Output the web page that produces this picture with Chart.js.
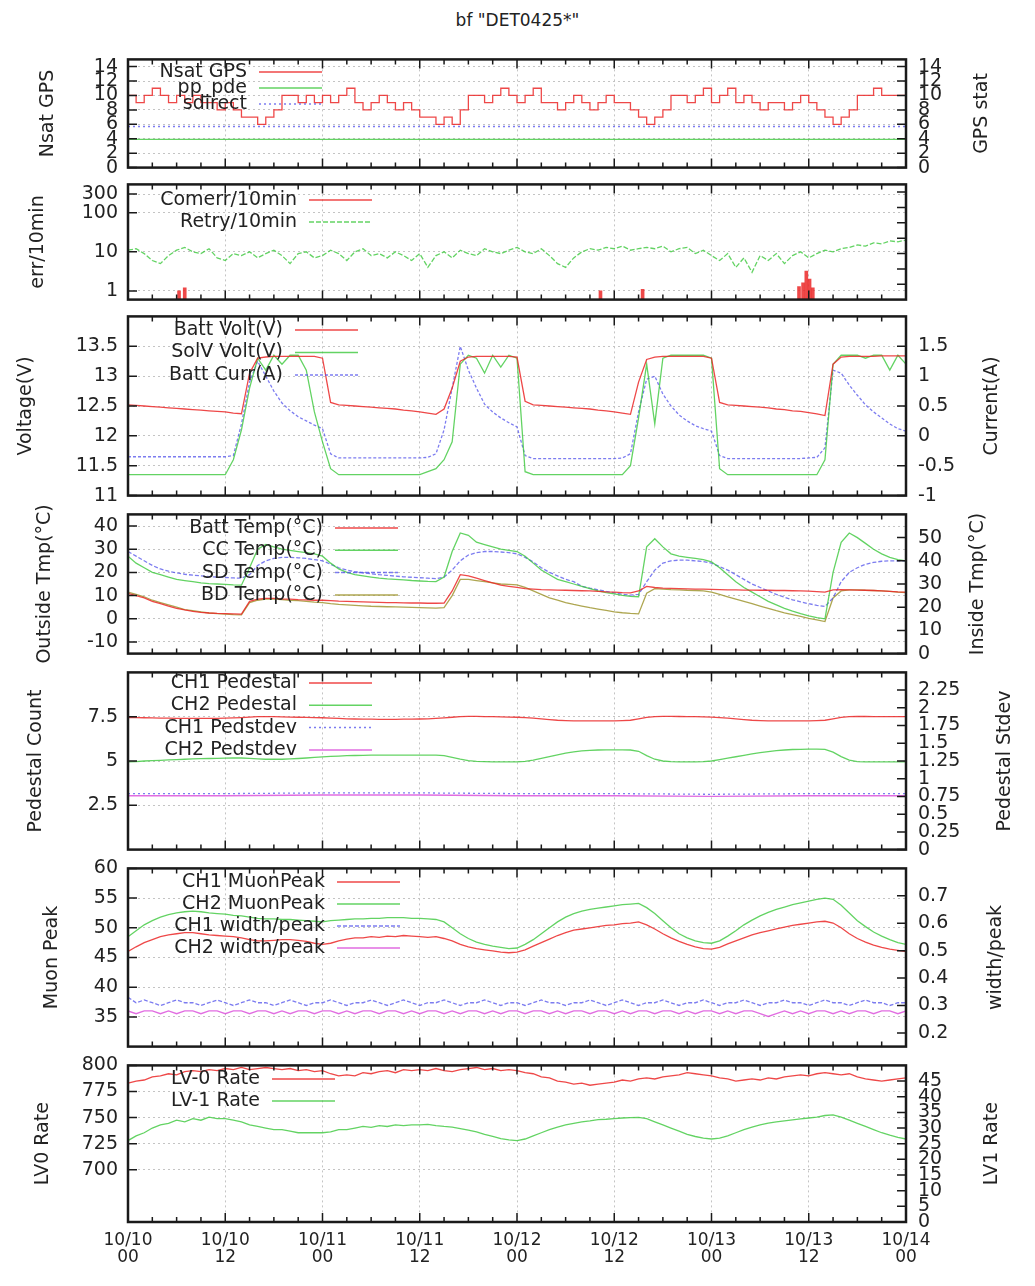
<!DOCTYPE html>
<html>
<head>
<meta charset="utf-8">
<title>DET0425 monitor</title>
<script src="https://cdn.jsdelivr.net/npm/chart.js@4.4.1/dist/chart.umd.min.js"></script>
<style>
  html, body { margin: 0; padding: 0; background: #fff; }
  #page { position: relative; width: 1035px; height: 1286px; overflow: hidden; }
  #page canvas { position: absolute; left: 0; }
  #title { position: absolute; left: 0; top: 10px; width: 1035px; text-align: center;
           font: 17px 'DejaVu Sans', sans-serif; color: #222; }
</style>
</head>
<body>
<div id="page"><div id="title">bf "DET0425*"</div></div>
<script>
// ── time axis: hours since 10/10 00:00 ──
const hours = [
  0, 1, 2, 3, 4, 5, 6, 7, 8, 9, 10, 11,
  12, 13, 14, 15, 16, 17, 18, 19, 20, 21, 22, 23,
  24, 25, 26, 27, 28, 29, 30, 31, 32, 33, 34, 35,
  36, 37, 38, 39, 40, 41, 42, 43, 44, 45, 46, 47,
  48, 49, 50, 51, 52, 53, 54, 55, 56, 57, 58, 59,
  60, 61, 62, 63, 64, 65, 66, 67, 68, 69, 70, 71,
  72, 73, 74, 75, 76, 77, 78, 79, 80, 81, 82, 83,
  84, 85, 86, 87, 88, 89, 90, 91, 92, 93, 94, 95,
  96
];
const hours12 = [0, 12, 24, 36, 48, 60, 72, 84, 96];
const hoursEnds = [0, 96];
const xTicks = [0, 12, 24, 36, 48, 60, 72, 84, 96];
const xTickLabels = [
  ['10/10', '00'], ['10/10', '12'], ['10/11', '00'], ['10/11', '12'], ['10/12', '00'],
  ['10/12', '12'], ['10/13', '00'], ['10/13', '12'], ['10/14', '00']
];

// ── GPS ──
const nsatGps = [
  10, 9, 10, 11, 10, 9, 10, 9, 10, 9, 9, 8,
  9, 8, 7, 7, 6, 7, 8, 10, 10, 9, 10, 9,
  10, 9, 10, 11, 9, 8, 9, 10, 9, 8, 9, 8,
  7, 7, 6, 7, 6, 8, 10, 10, 9, 10, 11, 10,
  9, 10, 11, 9, 9, 8, 9, 10, 9, 8, 9, 10,
  9, 9, 8, 7, 6, 7, 8, 10, 10, 9, 10, 11,
  9, 10, 11, 9, 10, 9, 8, 9, 9, 8, 9, 10,
  9, 8, 7, 6, 7, 8, 10, 10, 11, 10, 10, 10,
  9
];
const ppPde = [3.9, 3.9];
const sDirect = [5.7, 5.7];
const gpsTicks = [0, 2, 4, 6, 8, 10, 12, 14];

// ── communication errors ──
const comErrT = [6.3, 7.0, 58.3, 63.5, 82.8, 83.3, 83.7, 84.1, 84.5];
const comErrV = [1, 1.2, 1, 1.1, 1.3, 1.6, 3.2, 2, 1.2];
const retry10 = [
  11, 12, 9, 6, 5, 8, 11, 13, 10, 9, 12, 7,
  6, 9, 8, 10, 7, 9, 11, 8, 5, 9, 10, 7,
  8, 11, 9, 6, 10, 12, 8, 9, 7, 10, 8, 6,
  9, 4, 8, 10, 7, 11, 9, 8, 12, 10, 9, 11,
  13, 10, 9, 12, 8, 5, 4, 7, 10, 12, 11, 13,
  12, 14, 11, 12, 13, 12, 14, 10, 12, 13, 9, 11,
  8, 6, 9, 4, 7, 3, 8, 6, 9, 5, 8, 10,
  7, 9, 11, 10, 12, 13, 15, 14, 17, 16, 19, 18,
  20
];
const errTicks = [1, 10, 100, 300];
const errRightTicks = [1, 2, 3, 4, 5, 6, 7];

// ── power ──
const battVolt = [
  12.52, 12.51, 12.5, 12.49, 12.48, 12.47, 12.46, 12.45, 12.44, 12.43, 12.42, 12.41,
  12.4, 12.38, 12.37, 13.05, 13.3, 13.32, 13.33, 13.33, 13.33, 13.33, 13.33, 13.33,
  13.3, 12.56, 12.52, 12.51, 12.5, 12.49, 12.48, 12.47, 12.46, 12.45, 12.43, 12.42,
  12.4, 12.38, 12.36, 12.45, 12.8, 13.25, 13.32, 13.33, 13.33, 13.33, 13.33, 13.33,
  13.32, 12.58, 12.52, 12.51, 12.5, 12.49, 12.48, 12.47, 12.46, 12.45, 12.43, 12.42,
  12.4, 12.38, 12.36, 12.9, 13.28, 13.32, 13.33, 13.33, 13.33, 13.33, 13.33, 13.33,
  13.3, 12.56, 12.52, 12.51, 12.5, 12.49, 12.48, 12.47, 12.45, 12.44, 12.42, 12.41,
  12.39, 12.37, 12.34, 13.2, 13.32, 13.33, 13.33, 13.33, 13.33, 13.34, 13.34, 13.34,
  13.34
];
const solVolt = [
  11.35, 11.35, 11.35, 11.35, 11.35, 11.35, 11.35, 11.35, 11.35, 11.35, 11.35, 11.35,
  11.35, 11.6, 12.1, 12.8, 13.3, 13.1, 13.35, 13.2, 13.35, 13.35, 13.1, 12.4,
  11.9, 11.45, 11.35, 11.35, 11.35, 11.35, 11.35, 11.35, 11.35, 11.35, 11.35, 11.35,
  11.35, 11.4, 11.45, 11.6, 11.9, 13.2, 13.35, 13.3, 13.05, 13.35, 13.15, 13.35,
  13.3, 11.4, 11.35, 11.35, 11.35, 11.35, 11.35, 11.35, 11.35, 11.35, 11.35, 11.35,
  11.35, 11.35, 11.5, 12.3, 13.2, 12.2, 13.3, 13.35, 13.35, 13.35, 13.35, 13.35,
  13.3, 11.45, 11.35, 11.35, 11.35, 11.35, 11.35, 11.35, 11.35, 11.35, 11.35, 11.35,
  11.35, 11.35, 11.6, 13.2, 13.35, 13.35, 13.35, 13.3, 13.35, 13.35, 13.1, 13.35,
  13.2
];
const battCurr = [
  -0.35, -0.35, -0.35, -0.35, -0.35, -0.35, -0.35, -0.35, -0.35, -0.35, -0.35, -0.35,
  -0.35, -0.33, 0.2, 0.9, 1.25, 1.0, 0.75, 0.55, 0.42, 0.32, 0.25, 0.18,
  0.12, -0.3, -0.37, -0.37, -0.37, -0.37, -0.37, -0.37, -0.37, -0.37, -0.37, -0.37,
  -0.37, -0.36, -0.3, 0.1, 0.8, 1.5, 1.1, 0.8, 0.53, 0.4, 0.3, 0.22,
  0.15, -0.33, -0.38, -0.38, -0.38, -0.38, -0.38, -0.38, -0.38, -0.38, -0.38, -0.38,
  -0.38, -0.37, -0.3, 0.4, 0.95, 1.0, 0.7, 0.5, 0.35, 0.25, 0.17, 0.12,
  0.08, -0.33, -0.38, -0.38, -0.38, -0.38, -0.38, -0.38, -0.38, -0.38, -0.38, -0.38,
  -0.37, -0.36, -0.2, 1.1, 1.05, 0.85, 0.68, 0.52, 0.4, 0.3, 0.2, 0.12,
  0.08
];
const voltTicks = [11, 11.5, 12, 12.5, 13, 13.5];
const currTicks = [-1, -0.5, 0, 0.5, 1, 1.5];

// ── temperatures ──
const battTemp = [
  11, 10, 9, 7.5, 6.5, 5.5, 4.5, 3.8, 3.2, 2.8, 2.5, 2.3,
  2.2, 2.1, 2.0, 7.5, 8.5, 8.8, 8.8, 8.6, 8.5, 8.3, 8.2, 8.0,
  8.0, 7.8, 7.6, 7.5, 7.4, 7.3, 7.2, 7.1, 7.0, 7.0, 6.9, 6.8,
  6.8, 6.7, 6.7, 6.8, 12, 19, 18.5, 17.5, 16.5, 15.5, 14.5, 14,
  13.5, 13, 12.8, 12.6, 12.5, 12.4, 12.3, 12.2, 12.1, 12, 11.8, 11.6,
  11.5, 11.3, 11.2, 12, 14, 13.5, 13.2, 13.1, 13, 12.9, 12.8, 12.8,
  12.7, 12.6, 12.5, 12.5, 12.4, 12.4, 12.3, 12.3, 12.2, 12.2, 12.1, 12,
  11.9, 11.7, 11.5, 12.5, 12.6, 12.5, 12.4, 12.3, 12.2, 12, 11.8, 11.6,
  11.5
];
const ccTemp = [
  42, 39, 37, 35, 34, 33, 32, 31.5, 31, 30.5, 30.2, 30,
  29.8, 29.6, 29.5, 37, 45, 47, 46, 45, 44.5, 44, 43.5, 43,
  42, 39, 36.5, 35, 34, 33.5, 33, 32.5, 32.2, 32, 31.8, 31.5,
  31.3, 31.1, 31, 33, 44, 52, 51, 48, 47, 46, 45, 44.5,
  44, 42, 39, 36, 34, 32, 31, 30, 29, 28, 27, 26.3,
  25.7, 25.1, 24.7, 24.5, 46, 49.5, 46, 43, 42, 41.5, 41, 40.5,
  39.5, 37, 34, 31, 28.5, 26.5, 24.5, 22.5, 21, 19.5, 18.3, 17.2,
  16.3, 15.5, 15, 35, 48, 52, 50, 47.5, 45, 43, 41.5, 40.5,
  40
];
const sdTemp = [
  44, 42, 40, 38, 36.5, 35.5, 34.8, 34.2, 33.8, 33.5, 33.2, 33,
  32.8, 32.6, 32.5, 34, 38, 40, 41, 41.5, 41.5, 41.3, 41, 40.5,
  40, 38.5, 37, 36, 35.3, 34.8, 34.4, 34, 33.7, 33.4, 33.1, 32.9,
  32.7, 32.5, 32.3, 33, 36, 40, 42.5, 43.5, 44, 44, 43.8, 43.5,
  43, 41.5, 39.5, 37, 35, 33.5, 32, 31, 29, 28.2, 27.5, 26.8,
  26.2, 25.6, 25.2, 25.5, 31, 36, 39, 40, 40.3, 40.3, 40, 39.7,
  39, 37.5, 36, 34, 32, 30, 28.5, 27, 25.5, 24.3, 23.2, 22.3,
  21.5, 20.8, 20.3, 24, 31, 35, 37, 38.5, 39.3, 39.8, 40, 40,
  40
];
const bdTemp = [
  11.5, 10.5, 9.5, 8, 7, 6, 5, 4, 3.5, 3, 2.5, 2.2,
  2, 1.8, 1.7, 7, 8, 8.5, 8.5, 8.3, 8, 7.8, 7.5, 7.2,
  7, 6.5, 6.2, 6, 5.8, 5.6, 5.4, 5.3, 5.2, 5.1, 5, 4.9,
  4.8, 4.7, 4.6, 4.8, 10, 17, 17, 16.5, 16, 15.5, 15, 14.8,
  14.6, 13.5, 12, 10.5, 9, 8, 7, 6.2, 5.5, 4.8, 4.2, 3.6,
  3, 2.6, 2.3, 2.1, 11, 13, 12.8, 12.6, 12.5, 12.3, 12.2, 12,
  11.5, 10.5, 9.5, 8.5, 7.5, 6.5, 5.5, 4.5, 3.5, 2.6, 1.8, 1,
  0.2, -0.5, -1.2, 9, 12, 12.5, 12.5, 12.3, 12.2, 12, 11.8, 11.5,
  11.3
];
const outTicks = [-10, 0, 10, 20, 30, 40];
const inTicks = [0, 10, 20, 30, 40, 50];

// ── pedestals ──
const ch1Ped = [
  7.45, 7.45, 7.44, 7.43, 7.42, 7.42, 7.41, 7.41, 7.4, 7.4, 7.4, 7.41,
  7.42, 7.43, 7.45, 7.48, 7.5, 7.5, 7.5, 7.49, 7.48, 7.47, 7.46, 7.45,
  7.44, 7.42, 7.4, 7.38, 7.37, 7.36, 7.36, 7.35, 7.35, 7.35, 7.36, 7.36,
  7.37, 7.38, 7.4, 7.43, 7.47, 7.5, 7.52, 7.52, 7.5, 7.5, 7.49, 7.48,
  7.47, 7.45, 7.42, 7.38, 7.34, 7.3, 7.28, 7.27, 7.26, 7.26, 7.26, 7.27,
  7.27, 7.28, 7.3, 7.38, 7.46, 7.5, 7.52, 7.52, 7.51, 7.5, 7.5, 7.49,
  7.48, 7.45, 7.42, 7.38, 7.34, 7.3, 7.28, 7.27, 7.26, 7.26, 7.26, 7.26,
  7.27, 7.28, 7.3, 7.38, 7.46, 7.5, 7.51, 7.51, 7.5, 7.5, 7.5, 7.5,
  7.5
];
const ch2Ped = [
  4.95, 4.97, 5.0, 5.02, 5.04, 5.06, 5.08, 5.1, 5.12, 5.13, 5.14, 5.15,
  5.16, 5.17, 5.17, 5.15, 5.12, 5.1, 5.1, 5.1, 5.12, 5.14, 5.17, 5.2,
  5.23, 5.26, 5.28, 5.3, 5.31, 5.32, 5.33, 5.33, 5.33, 5.33, 5.33, 5.33,
  5.33, 5.33, 5.33, 5.3, 5.2, 5.1, 5.02, 4.98, 4.96, 4.95, 4.95, 4.95,
  4.95, 4.98, 5.05, 5.15, 5.25, 5.35, 5.45, 5.52, 5.57, 5.6, 5.62, 5.63,
  5.63, 5.63, 5.62, 5.55, 5.3, 5.1, 5.0, 4.96, 4.95, 4.95, 4.95, 4.96,
  5.0, 5.08, 5.16, 5.24, 5.32, 5.4, 5.47, 5.53, 5.58, 5.62, 5.65, 5.66,
  5.67, 5.67, 5.66, 5.5, 5.25, 5.05, 4.97, 4.95, 4.95, 4.95, 4.95, 4.95,
  4.95
];
const ch1PedStd = [0.79, 0.79, 0.8, 0.8, 0.79, 0.79, 0.78, 0.79, 0.79];
const ch2PedStd = [0.76, 0.76, 0.77, 0.77, 0.76, 0.76, 0.75, 0.76, 0.76];
const pedTicks = [2.5, 5, 7.5];
const pedStdTicks = [0, 0.25, 0.5, 0.75, 1, 1.25, 1.5, 1.75, 2, 2.25];

// ── muon peak ──
const ch1Muon = [
  46, 46.8, 47.5, 48, 48.5, 48.8, 49, 49.2, 49.2, 49, 48.8, 48.7,
  48.6, 48.5, 48.3, 48, 47.8, 47.8, 47.9, 48, 48, 47.9, 47.7, 47.4,
  47.2, 47.4, 47.8, 48.1, 48.3, 48.3, 48.5, 48.4, 48.6, 48.5, 48.7, 48.6,
  48.5, 48.4, 48.5, 48.2, 47.8, 47.2, 46.8, 46.5, 46.3, 46.1, 45.9, 45.8,
  45.9, 46.3, 46.9, 47.5, 48.1, 48.7, 49.2, 49.6, 49.8, 50, 50.2, 50.4,
  50.5, 50.7, 50.8, 51, 50.5, 49.8, 49, 48.3, 47.7, 47.2, 46.8, 46.5,
  46.4, 46.7, 47.3, 47.8, 48.3, 48.8, 49.2, 49.5, 49.8, 50.1, 50.4, 50.6,
  50.8, 51, 51.1, 50.8, 50, 49, 48.2, 47.6, 47.1, 46.7, 46.4, 46.2,
  46
];
const ch2Muon = [
  48.5, 49.5, 50.5, 51.2, 51.8, 52.2, 52.5, 52.7, 52.8, 52.7, 52.5, 52.4,
  52.3, 52.1, 52, 51.8, 51.6, 51.5, 51.5, 51.4, 51.4, 51.3, 51.2, 51.1,
  51, 51.2, 51.3, 51.4, 51.5, 51.5, 51.6, 51.6, 51.7, 51.7, 51.7, 51.6,
  51.6, 51.5, 51.4, 51, 50, 49, 48.2, 47.6, 47.2, 46.9, 46.7, 46.5,
  46.6, 47.2, 48, 49, 50, 51, 51.8, 52.4, 52.8, 53.1, 53.3, 53.5,
  53.7, 53.9, 54, 54.1, 53.4, 52.4, 51.2, 50, 49, 48.3, 47.8, 47.5,
  47.4, 47.8, 48.6, 49.5, 50.5, 51.3, 52, 52.6, 53.1, 53.5, 53.9, 54.2,
  54.5, 54.8, 55, 54.8, 53.8, 52.5, 51.2, 50.2, 49.3, 48.6, 48, 47.5,
  47.2
];
const ch1Width = [
  0.33, 0.31, 0.32, 0.31, 0.3, 0.31, 0.32, 0.31, 0.31, 0.3, 0.31, 0.32,
  0.31, 0.3, 0.31, 0.32, 0.31, 0.31, 0.3, 0.31, 0.32, 0.31, 0.3, 0.31,
  0.31, 0.32, 0.31, 0.3, 0.31, 0.31, 0.32, 0.31, 0.3, 0.31, 0.32, 0.31,
  0.3, 0.31, 0.31, 0.32, 0.31, 0.3, 0.31, 0.31, 0.32, 0.31, 0.3, 0.31,
  0.31, 0.3, 0.31, 0.32, 0.31, 0.31, 0.3, 0.31, 0.31, 0.32, 0.31, 0.3,
  0.31, 0.32, 0.31, 0.3, 0.31, 0.31, 0.32, 0.31, 0.3, 0.31, 0.31, 0.32,
  0.31, 0.3, 0.31, 0.31, 0.32, 0.31, 0.3, 0.31, 0.31, 0.32, 0.31, 0.31,
  0.3, 0.31, 0.32, 0.31, 0.31, 0.3, 0.31, 0.32, 0.31, 0.31, 0.3, 0.31,
  0.31
];
const ch2Width = [
  0.28, 0.27, 0.28, 0.28, 0.27, 0.28, 0.27, 0.28, 0.28, 0.27, 0.28, 0.28,
  0.27, 0.28, 0.28, 0.27, 0.28, 0.28, 0.27, 0.28, 0.27, 0.28, 0.28, 0.27,
  0.28, 0.28, 0.27, 0.28, 0.27, 0.28, 0.28, 0.27, 0.28, 0.28, 0.27, 0.28,
  0.27, 0.28, 0.28, 0.27, 0.28, 0.27, 0.28, 0.28, 0.27, 0.28, 0.27, 0.28,
  0.28, 0.27, 0.28, 0.28, 0.27, 0.28, 0.27, 0.28, 0.28, 0.27, 0.28, 0.28,
  0.27, 0.28, 0.27, 0.28, 0.28, 0.27, 0.28, 0.28, 0.27, 0.28, 0.27, 0.28,
  0.28, 0.27, 0.28, 0.27, 0.28, 0.28, 0.27, 0.26, 0.27, 0.28, 0.27, 0.28,
  0.27, 0.28, 0.28, 0.27, 0.28, 0.27, 0.28, 0.28, 0.27, 0.28, 0.28, 0.27,
  0.28
];
const muonTicks = [35, 40, 45, 50, 55, 60];
const widthTicks = [0.2, 0.3, 0.4, 0.5, 0.6, 0.7];

// ── trigger rates ──
const lv0Rate = [
  783, 785, 786, 789, 790, 792, 791, 794, 795, 794, 796, 795,
  797, 796, 798, 796, 797, 798, 797, 796, 797, 795, 796, 794,
  795, 792, 790, 791, 790, 793, 792, 794, 795, 793, 796, 795,
  796, 795, 797, 795, 794, 796, 797, 798, 796, 797, 795, 796,
  795, 793, 792, 789, 788, 785, 784, 782, 783, 781, 782, 783,
  784, 786, 785, 787, 788, 787, 789, 790, 791, 793, 792, 791,
  790, 788, 787, 785, 786, 787, 786, 788, 787, 789, 790, 791,
  790, 792, 793, 792, 791, 792, 789, 787, 786, 785, 786, 787,
  788
];
const lv1Rate = [
  26, 27.5, 28.5, 30, 31, 31.5, 32.5, 32, 33, 32.5, 33.5, 33,
  33, 32.5, 32, 31, 30.5, 30, 29.5, 29.5, 29, 28.5, 28.5, 28.5,
  28.5, 28.8, 29.5, 29.5, 30, 30.5, 30.2, 30.8, 30.5, 31, 30.8, 31,
  31, 31.2, 30.8, 30.5, 30.3, 29.8, 29.3, 28.8, 28, 27.3, 26.6, 26.2,
  26, 26.5, 27.5, 28.5, 29.5, 30.3, 31, 31.5, 32, 32.3, 32.7, 32.8,
  33, 33.2, 33.3, 33.4, 33, 32, 31, 30, 29, 28, 27.3, 26.8,
  26.5, 26.8, 27.5, 28.5, 29.5, 30.3, 31, 31.6, 32, 32.3, 32.6, 32.9,
  33.2, 33.5, 34, 34.2, 33.5, 32.5, 31.5, 30.5, 29.5, 28.5, 27.7, 27,
  26.5
];
const lv0Ticks = [700, 725, 750, 775, 800];
const lv1Ticks = [0, 5, 10, 15, 20, 25, 30, 35, 40, 45];

// ── styling ──
const RED = 'rgba(235, 40, 40, 0.85)';
const GREEN = 'rgba(60, 200, 60, 0.8)';
const BLUE = 'rgba(80, 80, 235, 0.75)';
const MAGENTA = 'rgba(215, 60, 215, 0.75)';
const OLIVE = 'rgba(160, 150, 50, 0.85)';
const GRID = '#c4c4c4';
const FONT = "'DejaVu Sans', sans-serif";

Chart.defaults.font.family = FONT;
Chart.defaults.color = '#222';

const panels = [
  {
    top: 50, bottom: 177,
    yl: { min: 0, max: 15, ticks: gpsTicks }, yr: { min: 0, max: 15, ticks: gpsTicks },
    leftTitle: 'Nsat GPS', leftX: 48, rightTitle: 'GPS stat', rightX: 982,
    keyX: 247, keyY: 72, keyGap: 16,
    sets: [
      { label: 'Nsat GPS', t: hours, v: nsatGps, color: RED, axis: 'y', stepped: true },
      { label: 'pp_pde', t: hoursEnds, v: ppPde, color: GREEN, axis: 'y2' },
      { label: 'sdirect', t: hoursEnds, v: sDirect, color: BLUE, axis: 'y2', dash: [2, 3] }
    ]
  },
  {
    top: 177, bottom: 307,
    yl: { min: 0.6, max: 530, ticks: errTicks, log: true },
    yr: { min: 0, max: 7.5, ticks: errRightTicks, noLabels: true },
    leftTitle: 'err/10min', leftX: 38, rightTitle: '', rightX: 0,
    keyX: 297, keyY: 200, keyGap: 22,
    sets: [
      { label: 'Comerr/10min', t: comErrT, v: comErrV, color: RED, axis: 'y', type: 'bar' },
      { label: 'Retry/10min', t: hours, v: retry10, color: GREEN, axis: 'y', dash: [5, 2] }
    ]
  },
  {
    top: 307, bottom: 505,
    yl: { min: 11, max: 14, ticks: voltTicks }, yr: { min: -1, max: 2, ticks: currTicks },
    leftTitle: 'Voltage(V)', leftX: 26, rightTitle: 'Current(A)', rightX: 992,
    keyX: 283, keyY: 330, keyGap: 22.5,
    sets: [
      { label: 'Batt Volt(V)', t: hours, v: battVolt, color: RED, axis: 'y' },
      { label: 'SolV Volt(V)', t: hours, v: solVolt, color: GREEN, axis: 'y' },
      { label: 'Batt Curr(A)', t: hours, v: battCurr, color: BLUE, axis: 'y2', dash: [3, 2] }
    ]
  },
  {
    top: 505, bottom: 663,
    yl: { min: -15, max: 45, ticks: outTicks }, yr: { min: 0, max: 60, ticks: inTicks },
    leftTitle: 'Outside Tmp(°C)', leftX: 45, rightTitle: 'Inside Tmp(°C)', rightX: 978,
    keyX: 323, keyY: 528, keyGap: 22.3,
    sets: [
      { label: 'Batt Temp(°C)', t: hours, v: battTemp, color: RED, axis: 'y' },
      { label: 'CC Temp(°C)', t: hours, v: ccTemp, color: GREEN, axis: 'y2' },
      { label: 'SD Temp(°C)', t: hours, v: sdTemp, color: BLUE, axis: 'y2', dash: [4, 2] },
      { label: 'BD Temp(°C)', t: hours, v: bdTemp, color: OLIVE, axis: 'y' }
    ]
  },
  {
    top: 663, bottom: 859,
    yl: { min: 0, max: 10, ticks: pedTicks }, yr: { min: 0, max: 2.5, ticks: pedStdTicks },
    leftTitle: 'Pedestal Count', leftX: 36, rightTitle: 'Pedestal Stdev', rightX: 1005,
    keyX: 297, keyY: 683, keyGap: 22.3,
    sets: [
      { label: 'CH1 Pedestal', t: hours, v: ch1Ped, color: RED, axis: 'y' },
      { label: 'CH2 Pedestal', t: hours, v: ch2Ped, color: GREEN, axis: 'y' },
      { label: 'CH1 Pedstdev', t: hours12, v: ch1PedStd, color: BLUE, axis: 'y2', dash: [2, 3] },
      { label: 'CH2 Pedstdev', t: hours12, v: ch2PedStd, color: MAGENTA, axis: 'y2' }
    ]
  },
  {
    top: 859, bottom: 1056,
    yl: { min: 30, max: 60, ticks: muonTicks }, yr: { min: 0.15, max: 0.8, ticks: widthTicks },
    leftTitle: 'Muon Peak', leftX: 52, rightTitle: 'width/peak', rightX: 996,
    keyX: 325, keyY: 882, keyGap: 22,
    sets: [
      { label: 'CH1 MuonPeak', t: hours, v: ch1Muon, color: RED, axis: 'y' },
      { label: 'CH2 MuonPeak', t: hours, v: ch2Muon, color: GREEN, axis: 'y' },
      { label: 'CH1 width/peak', t: hours, v: ch1Width, color: BLUE, axis: 'y2', dash: [4, 2] },
      { label: 'CH2 width/peak', t: hours, v: ch2Width, color: MAGENTA, axis: 'y2' }
    ]
  },
  {
    top: 1056, bottom: 1222,
    yl: { min: 650, max: 800, ticks: lv0Ticks }, yr: { min: 0, max: 50, ticks: lv1Ticks },
    leftTitle: 'LV0 Rate', leftX: 43, rightTitle: 'LV1 Rate', rightX: 992,
    keyX: 260, keyY: 1079, keyGap: 22,
    sets: [
      { label: 'LV-0 Rate', t: hours, v: lv0Rate, color: RED, axis: 'y' },
      { label: 'LV-1 Rate', t: hours, v: lv1Rate, color: GREEN, axis: 'y2' }
    ]
  }
];

function series(s) {
  return {
    type: s.type || 'line',
    label: s.label,
    data: s.t.map((x, i) => ({ x: x, y: s.v[i] })),
    yAxisID: s.axis,
    borderColor: s.color,
    backgroundColor: s.color,
    borderWidth: s.type === 'bar' ? 0 : 1.3,
    borderDash: s.dash || [],
    pointRadius: 0,
    stepped: s.stepped || false,
    tension: 0,
    barThickness: 3
  };
}

function yAxis(cfg, pos) {
  return {
    type: cfg.log ? 'logarithmic' : 'linear',
    position: pos,
    min: cfg.min,
    max: cfg.max,
    afterBuildTicks: s => { s.ticks = cfg.ticks.map(v => ({ value: v })); },
    afterFit: s => { s.width = pos === 'left' ? 128 : 129; },
    grid: { display: pos === 'left', color: GRID, drawTicks: false },
    border: { display: false, dash: [2, 3] },
    ticks: {
      display: !cfg.noLabels, autoSkip: false,
      padding: pos === 'left' ? 10 : 12,
      font: { size: 19 }, color: '#222',
      callback: v => String(v)
    }
  };
}

// frame, inward tick marks, axis titles and the key, gnuplot style
function decorations(p, padT) {
  return {
    id: 'decorations',
    afterDraw(chart) {
      const ctx = chart.ctx;
      const a = chart.chartArea;
      const sx = chart.scales.x, yl = chart.scales.y, yr = chart.scales.y2;
      const off = p.top - padT;
      ctx.save();
      ctx.strokeStyle = '#1a1a1a';
      ctx.lineWidth = 2.5;
      ctx.strokeRect(a.left, a.top, a.right - a.left, a.bottom - a.top);

      ctx.lineWidth = 1.5;
      ctx.beginPath();
      for (let h = 0; h <= 96; h += 3) {
        const px = sx.getPixelForValue(h);
        const len = h % 12 === 0 ? 9 : 5;
        ctx.moveTo(px, a.top); ctx.lineTo(px, a.top + len);
        ctx.moveTo(px, a.bottom); ctx.lineTo(px, a.bottom - len);
      }
      yl.ticks.forEach(t => {
        const py = yl.getPixelForValue(t.value);
        ctx.moveTo(a.left, py); ctx.lineTo(a.left + 9, py);
      });
      yr.ticks.forEach(t => {
        const py = yr.getPixelForValue(t.value);
        ctx.moveTo(a.right, py); ctx.lineTo(a.right - 9, py);
      });
      ctx.stroke();

      ctx.fillStyle = '#222';
      ctx.font = '19px ' + FONT;
      ctx.textAlign = 'center';
      ctx.textBaseline = 'middle';
      const cy = (a.top + a.bottom) / 2;
      [[p.leftTitle, p.leftX], [p.rightTitle, p.rightX]].forEach(([txt, x]) => {
        if (!txt) return;
        ctx.save();
        ctx.translate(x, cy);
        ctx.rotate(-Math.PI / 2);
        ctx.fillText(txt, 0, 0);
        ctx.restore();
      });

      ctx.textAlign = 'right';
      chart.data.datasets.forEach((ds, i) => {
        const y = p.keyY + i * p.keyGap - off;
        ctx.fillStyle = '#222';
        ctx.fillText(ds.label, p.keyX, y);
        ctx.strokeStyle = ds.borderColor;
        ctx.lineWidth = 1.5;
        ctx.setLineDash(ds.borderDash || []);
        ctx.beginPath();
        ctx.moveTo(p.keyX + 12, y);
        ctx.lineTo(p.keyX + 75, y);
        ctx.stroke();
        ctx.setLineDash([]);
      });
      ctx.restore();
    }
  };
}

const page = document.getElementById('page');

panels.forEach((p, idx) => {
  const last = idx === panels.length - 1;
  const padT = 14;
  const padB = last ? 0 : 14;
  const xH = last ? 48 : 0;
  const h = p.bottom - p.top + padT + padB + xH;

  const canvas = document.createElement('canvas');
  canvas.width = 1035;
  canvas.height = h;
  canvas.style.width = '1035px';
  canvas.style.height = h + 'px';
  canvas.style.top = (p.top - padT) + 'px';
  page.appendChild(canvas);

  new Chart(canvas, {
    type: 'line',
    data: { datasets: p.sets.map(series) },
    options: {
      responsive: false,
      animation: false,
      layout: { padding: { top: padT, bottom: padB, left: 0, right: 0 } },
      plugins: { legend: { display: false }, tooltip: { enabled: false } },
      scales: {
        x: {
          type: 'linear', min: 0, max: 96, offset: false,
          afterBuildTicks: s => { s.ticks = xTicks.map(v => ({ value: v })); },
          afterFit: s => { s.height = xH; },
          grid: { color: GRID, drawTicks: false, offset: false },
          border: { display: false, dash: [2, 3] },
          ticks: {
            display: last, autoSkip: false, maxRotation: 0, padding: 10,
            font: { size: 17, lineHeight: 1.0 }, color: '#222',
            callback: (v, i) => xTickLabels[i]
          }
        },
        y: yAxis(p.yl, 'left'),
        y2: yAxis(p.yr, 'right')
      }
    },
    plugins: [decorations(p, padT)]
  });
});
</script>
</body>
</html>
